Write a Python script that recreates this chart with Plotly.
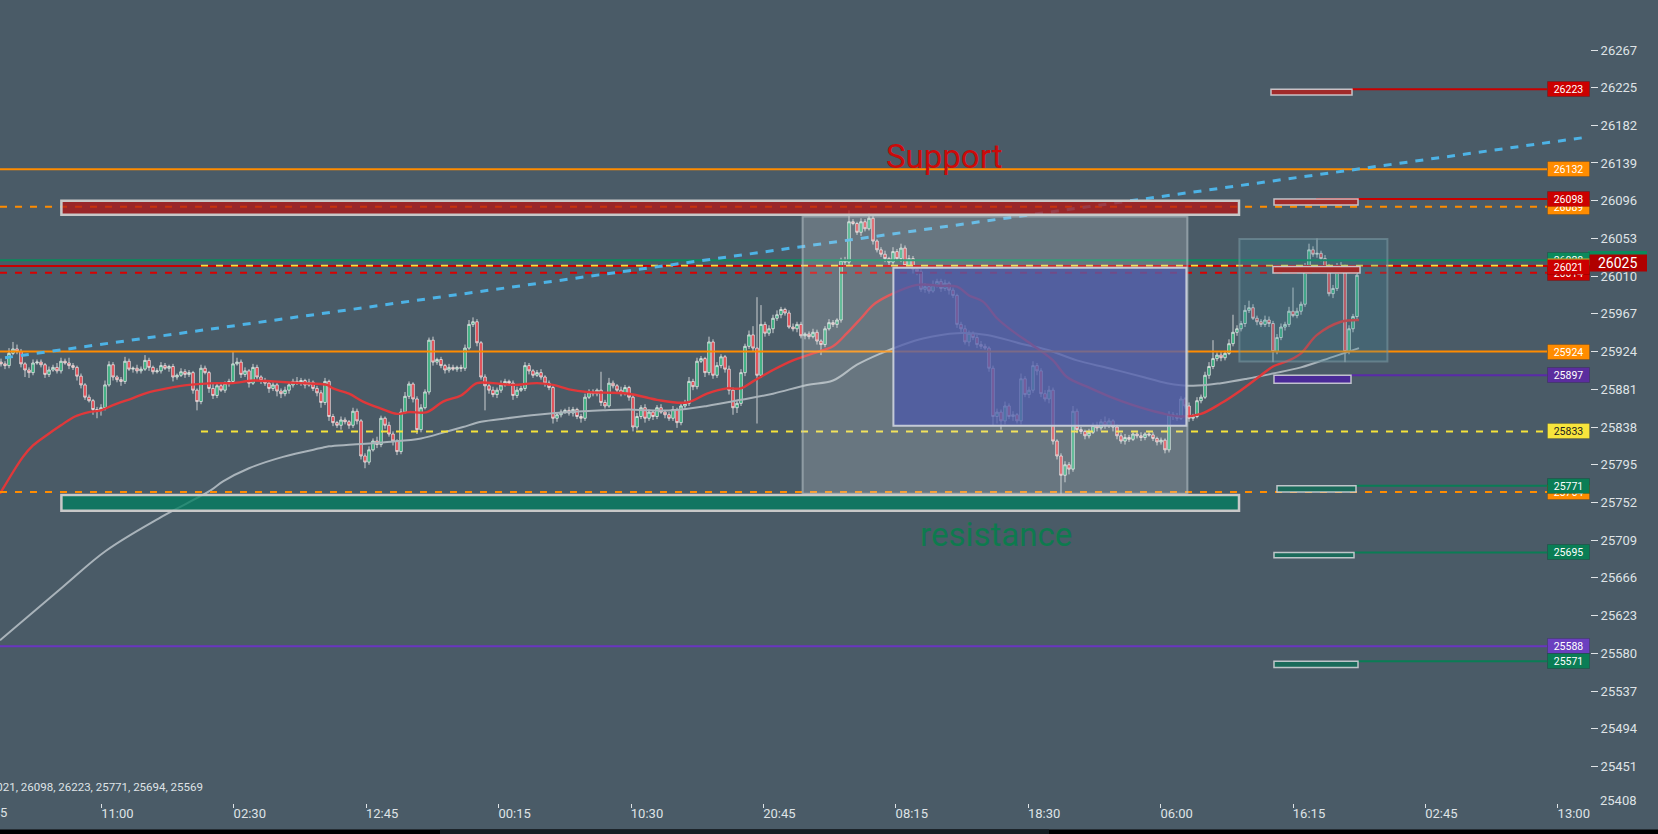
import plotly.graph_objects as go

# ---------------- data ----------------
first_open = 25912
closes = [
    25910, 25908, 25922, 25927, 25924, 25910, 25903, 25900, 25911, 25912,
    25909, 25898, 25903, 25906, 25902, 25913, 25911, 25908, 25906, 25896,
    25886, 25872, 25868, 25858, 25857, 25860, 25886, 25909, 25895, 25892,
    25890, 25913, 25904, 25905, 25902, 25904, 25914, 25906, 25901, 25902,
    25908, 25905, 25907, 25895, 25897, 25901, 25898, 25900, 25880, 25867,
    25905, 25900, 25882, 25874, 25885, 25880, 25888, 25890, 25910, 25912,
    25898, 25902, 25888, 25906, 25895, 25891, 25888, 25882, 25886, 25879,
    25876, 25880, 25886, 25890, 25888, 25891, 25886, 25889, 25882, 25877,
    25866, 25890, 25850, 25843, 25840, 25846, 25844, 25840, 25856, 25845,
    25805, 25798, 25812, 25822, 25818, 25848, 25840, 25830, 25822, 25810,
    25855, 25873, 25887, 25870, 25835, 25860, 25878, 25937, 25912, 25915,
    25908, 25903, 25906, 25904, 25906, 25905, 25928, 25955, 25958, 25934,
    25895, 25885, 25880, 25875, 25880, 25886, 25890, 25888, 25874, 25880,
    25882, 25908, 25902, 25897, 25900, 25895, 25888, 25883, 25848, 25852,
    25855, 25857, 25854, 25858, 25850, 25848, 25872, 25878, 25876, 25880,
    25866, 25862, 25888, 25885, 25880, 25876, 25883, 25872, 25838, 25850,
    25860, 25848, 25855, 25850, 25860, 25855, 25852, 25848, 25858, 25843,
    25862, 25865, 25890, 25884, 25913, 25916, 25900, 25935, 25897, 25908,
    25918, 25904, 25880, 25860, 25865, 25900, 25930, 25943, 25928, 25897,
    25955, 25945, 25950, 25962, 25966, 25972, 25968, 25952, 25950, 25955,
    25942, 25944, 25941, 25946, 25936, 25932, 25950, 25957, 25955, 25960,
    26028, 26026, 26072, 26070, 26060, 26072, 26064, 26076, 26050, 26040,
    26035, 26030, 26026, 26038, 26030, 26042, 26022, 26030, 26018, 26015,
    25995, 25998, 25993, 26000, 26004, 25996, 26002, 25994, 25988, 25955,
    25950, 25935, 25945, 25940, 25932, 25930, 25928, 25905, 25850, 25855,
    25845, 25862, 25850, 25852, 25845, 25893, 25875, 25880, 25908, 25902,
    25876, 25870, 25880, 25822, 25805, 25783, 25795, 25790, 25856, 25835,
    25833, 25828, 25832, 25840, 25837, 25844, 25840, 25845, 25838, 25828,
    25822, 25826, 25824, 25830, 25828, 25826, 25830, 25829, 25825, 25821,
    25823, 25812, 25852, 25850, 25848, 25870, 25862, 25848, 25850, 25868,
    25872, 25897, 25907, 25916, 25920, 25917, 25922, 25933, 25946, 25950,
    25956, 25971, 25974, 25962, 25958, 25955, 25960, 25956, 25924, 25940,
    25952, 25955, 25970, 25965, 25970, 25978, 26021, 26040, 26035, 26036,
    26030, 26021, 25990, 25996, 26022, 26020, 25924, 25950, 25964, 26011,
]
wick_up = [
    4, 3, 6, 8, 5, 3, 2, 3, 4, 3,   3, 2, 4, 3, 5, 4, 3, 6, 3, 2,
    3, 2, 3, 2, 3, 4, 5, 4, 3, 2,   3, 5, 3, 2, 4, 3, 6, 3, 2, 3,
    4, 3, 2, 3, 2, 4, 3, 3, 2, 2,   4, 3, 2, 5, 3, 4, 2, 3, 14, 5,
    3, 4, 2, 4, 3, 2, 3, 2, 3, 2,   3, 4, 2, 3, 5, 3, 2, 4, 2, 3,
    3, 4, 2, 3, 2, 4, 3, 2, 4, 3,   2, 3, 4, 3, 5, 3, 2, 4, 3, 2,
    4, 5, 3, 2, 3, 4, 3, 3, 4, 2,   3, 2, 4, 3, 2, 3, 4, 5, 5, 3,
    2, 3, 2, 4, 3, 5, 3, 2, 3, 4,   3, 4, 3, 2, 3, 4, 2, 3, 2, 3,
    3, 2, 4, 3, 2, 3, 4, 3, 3, 2,   21, 3, 6, 3, 2, 4, 3, 2, 3, 4,
    3, 4, 3, 2, 3, 4, 2, 3, 4, 2,   3, 4, 5, 3, 4, 3, 2, 6, 3, 4,
    3, 2, 4, 3, 3, 4, 3, 5, 10, 58, 22, 3, 4, 4, 5, 3, 2, 3, 4, 3,
    3, 2, 3, 4, 3, 2, 3, 4, 3, 2,   3, 4, 13, 3, 2, 4, 3, 6, 3, 2,
    3, 4, 2, 5, 3, 5, 3, 4, 3, 2,   3, 4, 2, 5, 3, 3, 4, 2, 3, 2,
    3, 4, 3, 2, 3, 4, 3, 2, 3, 4,   3, 5, 3, 4, 2, 6, 3, 4, 5, 3,
    3, 4, 5, 3, 2, 3, 4, 3, 6, 3,   3, 2, 4, 3, 4, 3, 6, 3, 2, 3,
    3, 4, 3, 2, 3, 4, 2, 3, 3, 2,   3, 2, 4, 3, 4, 3, 2, 4, 3, 4,
    3, 4, 5, 21, 3, 4, 3, 5, 20, 4, 3, 6, 8, 4, 3, 3, 5, 4, 3, 4,
    4, 3, 5, 27, 4, 3, 4, 7, 4, 17, 3, 4, 3, 4, 3, 4, 3, 4, 3, 4,
]
wick_dn = [
    3, 4, 3, 2, 3, 4, 8, 6, 3, 2,   3, 4, 3, 2, 3, 3, 2, 4, 3, 5,
    4, 3, 2, 6, 9, 6, 3, 2, 4, 3,   5, 3, 2, 4, 3, 3, 2, 4, 3, 2,
    3, 2, 4, 5, 3, 2, 4, 3, 4, 10,  3, 2, 5, 4, 3, 2, 3, 4, 3, 2,
    4, 3, 5, 2, 3, 4, 3, 5, 3, 6,   5, 3, 4, 3, 2, 3, 4, 2, 3, 4,
    6, 3, 5, 4, 3, 5, 3, 4, 3, 4,   4, 7, 3, 2, 4, 3, 4, 3, 5, 4,
    3, 2, 3, 4, 5, 3, 2, 3, 4, 3,   3, 4, 3, 2, 3, 4, 3, 2, 3, 4,
    3, 28, 4, 3, 4, 3, 2, 3, 5, 3,  2, 3, 4, 3, 2, 3, 4, 3, 6, 4,
    3, 2, 3, 4, 3, 5, 3, 2, 3, 3,   4, 3, 2, 3, 4, 3, 2, 4, 5, 3,
    3, 5, 3, 4, 3, 2, 4, 3, 3, 6,   3, 4, 3, 4, 3, 2, 5, 3, 4, 3,
    3, 4, 5, 8, 6, 3, 4, 3, 4, 55,  3, 4, 3, 5, 3, 4, 3, 2, 3, 4,
    3, 4, 3, 2, 4, 12, 3, 2, 3, 4,  3, 4, 3, 2, 3, 4, 3, 2, 4, 3,
    3, 4, 5, 3, 2, 4, 3, 2, 5, 4,   3, 4, 3, 2, 3, 4, 3, 5, 3, 4,
    4, 3, 5, 3, 4, 3, 2, 4, 10, 8,  10, 4, 3, 5, 3, 4, 3, 4, 3, 5,
    4, 3, 5, 4, 4, 23, 8, 6, 3, 4,  3, 4, 3, 2, 4, 3, 4, 3, 5, 4,
    3, 4, 3, 2, 3, 4, 3, 2, 3, 4,   3, 4, 3, 4, 3, 2, 3, 4, 3, 2,
    3, 2, 4, 3, 3, 4, 3, 2, 3, 4,   3, 4, 3, 2, 4, 3, 3, 4, 12, 3,
    3, 4, 3, 2, 3, 4, 3, 2, 3, 4,   3, 4, 3, 5, 3, 2, 12, 3, 4, 3,
]

fast_ma_idx = [-0.25, 5.5, 8, 11.5, 15, 18.5, 22, 25, 28, 33, 36.5, 41.5, 47, 54, 58, 63, 68, 75,
               81.5, 83, 87, 90.5, 95, 99, 102, 106.5, 110.5, 115, 119, 123, 128, 134, 138, 142,
               146.5, 153, 157, 162, 164, 171.5, 176.5, 181.5, 185, 188, 193, 198, 203, 208, 211.5,
               215, 218, 222, 229, 235, 239, 242, 245.5, 249, 253, 258, 263, 266.5, 271.5, 277,
               283, 290, 295, 300, 305, 310, 315, 318, 322, 325, 329, 335, 339.5]
fast_ma_val = [25762, 25804, 25817, 25829, 25840, 25850, 25855, 25857, 25863, 25871, 25877, 25882,
               25886, 25888, 25888, 25891, 25890, 25888, 25886, 25882, 25876, 25867, 25859, 25853,
               25855, 25855, 25867, 25874, 25888, 25888, 25886, 25888, 25886, 25881, 25878, 25877,
               25876, 25871, 25869, 25866, 25876, 25882, 25882, 25890, 25903, 25914, 25922, 25930,
               25945, 25962, 25977, 25988, 26000, 25999, 25998, 25988, 25981, 25962, 25947, 25931,
               25914, 25895, 25884, 25873, 25863, 25854, 25850, 25853, 25865, 25880, 25897, 25907,
               25914, 25922, 25943, 25958, 25960]
slow_ma_idx = [-0.25, 15.5, 26.25, 39.5, 52.5, 55.5, 62, 70.5, 80, 82, 88, 96.5, 105, 111.5, 115.5,
               120, 126.5, 134, 142, 150.5, 157, 162, 168, 176.5, 185, 193, 201.5, 208, 214, 220,
               225, 230.5, 239, 246.5, 255, 261.5, 269, 277, 285.5, 291.5, 298, 305, 311.5, 318,
               325, 333, 339.5]
slow_ma_val = [25595, 25656, 25697, 25734, 25766, 25776, 25791, 25804, 25814, 25816, 25818, 25821,
               25825, 25833, 25838, 25844, 25848, 25852, 25855, 25857, 25858, 25857, 25857, 25862,
               25869, 25876, 25886, 25891, 25909, 25922, 25931, 25939, 25945, 25943, 25933, 25926,
               25914, 25905, 25895, 25888, 25885, 25888, 25893, 25899, 25906, 25918, 25928]

x_tick_pos = [25.1, 58.2, 91.3, 124.4, 157.5, 190.6, 223.7, 256.8, 289.9, 323.0, 356.1, 389.2]
x_tick_labels = ["11:00", "02:30", "12:45", "00:15", "10:30", "20:45", "08:15", "18:30",
                 "06:00", "16:15", "02:45", "13:00"]
y_tick_vals = [25451, 25494, 25537, 25580, 25623, 25666, 25709, 25752, 25795, 25838, 25881,
               25924, 25967, 26010, 26053, 26096, 26139, 26182, 26225, 26267]

# horizontal levels: price, colour, dash, start bar, width (drawn in this order)
level_prices = [26132, 26089, 26021.5, 26022, 26028, 26014, 25924, 25833, 25764, 25588]
level_colors = ["#ff8c00", "#ff8c00", "#c80000", "#f5e23a", "#0b8a5c", "#d80000",
                "#ff8c00", "#f5e23a", "#ff8c00", "#6a35c0"]
level_dashed = [False, True, False, True, False, True, False, True, True, False]
level_start = [-0.25, -0.25, -0.25, 50, -0.25, -0.25, -0.25, 50, -0.25, -0.25]
level_width = [2, 2, 2, 1.6, 2, 2, 2, 2, 2, 2]

# short order levels with their little boxes
order_prices = [26223, 26098, 26021, 25897, 25771, 25695, 25571]
order_box_start = [317.5, 318.25, 318.0, 318.25, 319.0, 318.25, 318.25]
order_box_end = [337.75, 339.25, 339.75, 337.5, 338.75, 338.25, 339.25]
order_box_depth = [6.5, 7, 7.5, 9, 7, 6, 7]
order_fill = ["#a02a2a", "#a02a2a", "#a02a2a", "#4a2a98", "#1a6a5a", "#1a6a5a", "#1a6a5a"]
order_line_color = ["#c80000", "#c80000", None, "#5a2aa8", "#0a7d55", "#0a7d55", "#0a7d55"]

# price tags on right (drawn in order)
tag_prices = [26223, 26132, 26089, 26098, 26028, 26022, 26014, 26021, 25924, 25897, 25833,
              25764, 25771, 25695, 25588, 25571]
tag_bg = ["#cc0000", "#ff8c00", "#ff8c00", "#cc0000", "#0b8a5c", "#f5e23a", "#cc0000", "#cc0000",
          "#ff8c00", "#5b2d9e", "#f8e53c", "#ff8c00", "#0a7d55", "#0a7d55", "#6b3fbf", "#0a7d55"]
tag_fg = ["white", "white", "white", "white", "white", "#222222", "white", "white",
          "white", "white", "#222222", "white", "white", "white", "white", "white"]

zones = {"support": (15.1, 309.5, 26080, 26096), "resistance": (15.1, 309.5, 25742.5, 25760.5)}
gray_box = (200.4, 296.6, 25762, 26078)
blue_box = (223.1, 296.35, 25839.5, 26019.6)
teal_box = (309.6, 346.6, 25912.6, 26052.3)
trend = (1.0, 25917, 395.75, 26168)
last_price = 26025
footer_text = "25588, 26021, 26098, 26223, 25771, 25694, 25569"

# ---------------- figure ----------------
BG = "#4a5b67"
W, H = 1658, 834
PLOT_W, PLOT_H = 1590, 803
Y0, Y1 = 25409.4, 26324.8
X0, X1 = -0.25, 397.25
FONT = "Roboto"

opens = [first_open] + closes[:-1]
highs = [max(o, c) + w for o, c, w in zip(opens, closes, wick_up)]
lows = [min(o, c) - w for o, c, w in zip(opens, closes, wick_dn)]
bars = list(range(len(closes)))

fig = go.Figure()
fig.add_trace(go.Candlestick(
    x=bars, open=opens, high=highs, low=lows, close=closes,
    increasing=dict(line=dict(color="#ececec", width=0.8), fillcolor="#1ea56e"),
    decreasing=dict(line=dict(color="#ececec", width=0.8), fillcolor="#e0323c"),
    whiskerwidth=0, hoverinfo="skip", showlegend=False))
fig.add_trace(go.Scatter(x=slow_ma_idx, y=slow_ma_val, mode="lines", line=dict(color="#a9b3ba", width=2, shape="spline"),
                         hoverinfo="skip", showlegend=False))
fig.add_trace(go.Scatter(x=fast_ma_idx, y=fast_ma_val, mode="lines", line=dict(color="#e0383a", width=2.4, shape="spline"),
                         hoverinfo="skip", showlegend=False))

shapes = []
label_left = (1547 - 1) / 4
for p, col, dsh, st, lw in zip(level_prices, level_colors, level_dashed, level_start, level_width):
    shapes.append(dict(type="line", xref="x", yref="y", x0=st, x1=label_left, y0=p, y1=p,
                       line=dict(color=col, width=lw, dash="7px,8px" if dsh else "solid"), layer="above"))
shapes.append(dict(type="line", xref="x", yref="y", x0=trend[0], y0=trend[1], x1=trend[2], y1=trend[3],
                   line=dict(color="#4db3e6", width=3, dash="8px,8px"), layer="above"))
# boxes
shapes.append(dict(type="rect", xref="x", yref="y", x0=gray_box[0], x1=gray_box[1], y0=gray_box[2], y1=gray_box[3],
                   fillcolor="rgba(225,230,230,0.2)", line=dict(color="rgba(190,200,205,0.55)", width=2), layer="above"))
shapes.append(dict(type="rect", xref="x", yref="y", x0=blue_box[0], x1=blue_box[1], y0=blue_box[2], y1=blue_box[3],
                   fillcolor="rgba(74,86,171,0.72)", line=dict(color="#c4cad6", width=2), layer="above"))
shapes.append(dict(type="rect", xref="x", yref="y", x0=teal_box[0], x1=teal_box[1], y0=teal_box[2], y1=teal_box[3],
                   fillcolor="rgba(60,130,150,0.25)", line=dict(color="rgba(120,150,160,0.6)", width=2), layer="above"))
s = zones["support"]
shapes.append(dict(type="rect", xref="x", yref="y", x0=s[0], x1=s[1], y0=s[2], y1=s[3],
                   fillcolor="rgba(180,20,20,0.75)", line=dict(color="#c8c8c8", width=2.5), layer="above"))
r = zones["resistance"]
shapes.append(dict(type="rect", xref="x", yref="y", x0=r[0], x1=r[1], y0=r[2], y1=r[3],
                   fillcolor="rgba(0,125,95,0.75)", line=dict(color="#c8c8c8", width=2.5), layer="above"))
# order boxes + lines
for p, b0, b1, d, fc, lc in zip(order_prices, order_box_start, order_box_end, order_box_depth, order_fill, order_line_color):
    if lc:
        start = (b0 + b1) / 2 if p == 26098 else b1
        shapes.append(dict(type="line", xref="x", yref="y", x0=start, x1=label_left, y0=p, y1=p,
                           line=dict(color=lc, width=2), layer="above"))
    shapes.append(dict(type="rect", xref="x", yref="y", x0=b0, x1=b1, y0=p - d, y1=p,
                       fillcolor=fc, line=dict(color="rgba(215,215,220,0.85)", width=1.5), layer="above"))


def py(price):
    return (price - Y0) / (Y1 - Y0)


def ppx(px):
    return px / PLOT_W


def ppy(pix):
    return (PLOT_H - pix) / PLOT_H


# green axis tag partly hidden + current price tag
shapes.append(dict(type="rect", xref="paper", yref="paper", x0=ppx(1588), x1=ppx(1647),
                   y0=py(last_price) + 4 / PLOT_H, y1=py(last_price) + 12 / PLOT_H,
                   fillcolor="#0b8a5c", line=dict(width=0), layer="above"))
ty = py(last_price)
h = 8.5 / PLOT_H
path = (f"M {ppx(1582)},{ty} L {ppx(1590)},{ty + h} L {ppx(1647)},{ty + h} "
        f"L {ppx(1647)},{ty - h} L {ppx(1590)},{ty - h} Z")
shapes.append(dict(type="path", xref="paper", yref="paper", path=path, fillcolor="#b00000",
                   line=dict(width=0), layer="above"))
# scrollbar at bottom
shapes.append(dict(type="rect", xref="paper", yref="paper", x0=0, x1=W / PLOT_W, y0=ppy(834), y1=ppy(829.5),
                   fillcolor="#000000", line=dict(width=0), layer="above"))
shapes.append(dict(type="rect", xref="paper", yref="paper", x0=ppx(440), x1=ppx(1049), y0=ppy(834), y1=ppy(829.5),
                   fillcolor="#151d22", line=dict(width=0), layer="above"))

annotations = []
label_x = (1568.5 - 1) / 4
for p, bg, fg in zip(tag_prices, tag_bg, tag_fg):
    annotations.append(dict(x=label_x, xref="x", y=p, yref="y", text=str(p), showarrow=False,
                            font=dict(family=FONT, size=10.5, color=fg), bgcolor=bg,
                            bordercolor="rgba(0,0,0,0.15)", borderwidth=1, borderpad=1,
                            width=39, height=12, align="center", valign="middle"))
annotations.append(dict(x=ppx(1617), xref="paper", y=ty, yref="paper", text=str(last_price), showarrow=False,
                        font=dict(family=FONT, size=14, color="white"), xanchor="center", yanchor="middle"))
annotations.append(dict(x=(944 - 1) / 4, xref="x", y=26146, yref="y", text="Support", showarrow=False,
                        font=dict(family=FONT, size=33, color="#cc0a0a"), xanchor="center", yanchor="middle"))
annotations.append(dict(x=(996 - 1) / 4, xref="x", y=25716, yref="y", text="resistance", showarrow=False,
                        font=dict(family=FONT, size=33, color="#0e7a4e"), xanchor="center", yanchor="middle"))
annotations.append(dict(x=ppx(205), xref="paper", y=ppy(787), yref="paper", text=footer_text, showarrow=False,
                        font=dict(family=FONT, size=11.5, color="#dfe3e6"), xanchor="right", yanchor="middle"))
annotations.append(dict(x=ppx(-27), xref="paper", y=ppy(812), yref="paper", text="21:45", showarrow=False,
                        font=dict(family=FONT, size=13, color="#dfe3e6"), xanchor="left", yanchor="middle"))
annotations.append(dict(x=ppx(1598), xref="paper", y=ppy(800), yref="paper", text="25408", showarrow=False,
                        font=dict(family=FONT, size=13, color="#dfe3e6"), xanchor="left", yanchor="middle"))

fig.update_layout(
    width=W, height=H, margin=dict(l=0, r=W - PLOT_W, t=0, b=H - PLOT_H),
    paper_bgcolor=BG, plot_bgcolor=BG, showlegend=False, boxgap=0.1,
    shapes=shapes, annotations=annotations, hovermode=False,
    xaxis=dict(range=[X0, X1], showgrid=False, zeroline=False, showline=False,
               tickvals=x_tick_pos, ticktext=x_tick_labels, ticks="outside", ticklen=4,
               tickcolor="#dfe3e6", tickfont=dict(family=FONT, size=13, color="#dfe3e6"),
               ticklabelshift=16, ticklabelstandoff=-6, rangeslider=dict(visible=False)),
    yaxis=dict(range=[Y0, Y1], side="right", showgrid=False, zeroline=False, showline=False,
               tickvals=y_tick_vals, ticktext=[str(v) for v in y_tick_vals], ticks="outside",
               ticklen=7, tickcolor="#dfe3e6", tickfont=dict(family=FONT, size=13, color="#dfe3e6")),
)

fig.write_html("out.html", config={"displayModeBar": False},
               post_script="document.body.style.margin='0px';document.body.style.background='%s';" % BG)
